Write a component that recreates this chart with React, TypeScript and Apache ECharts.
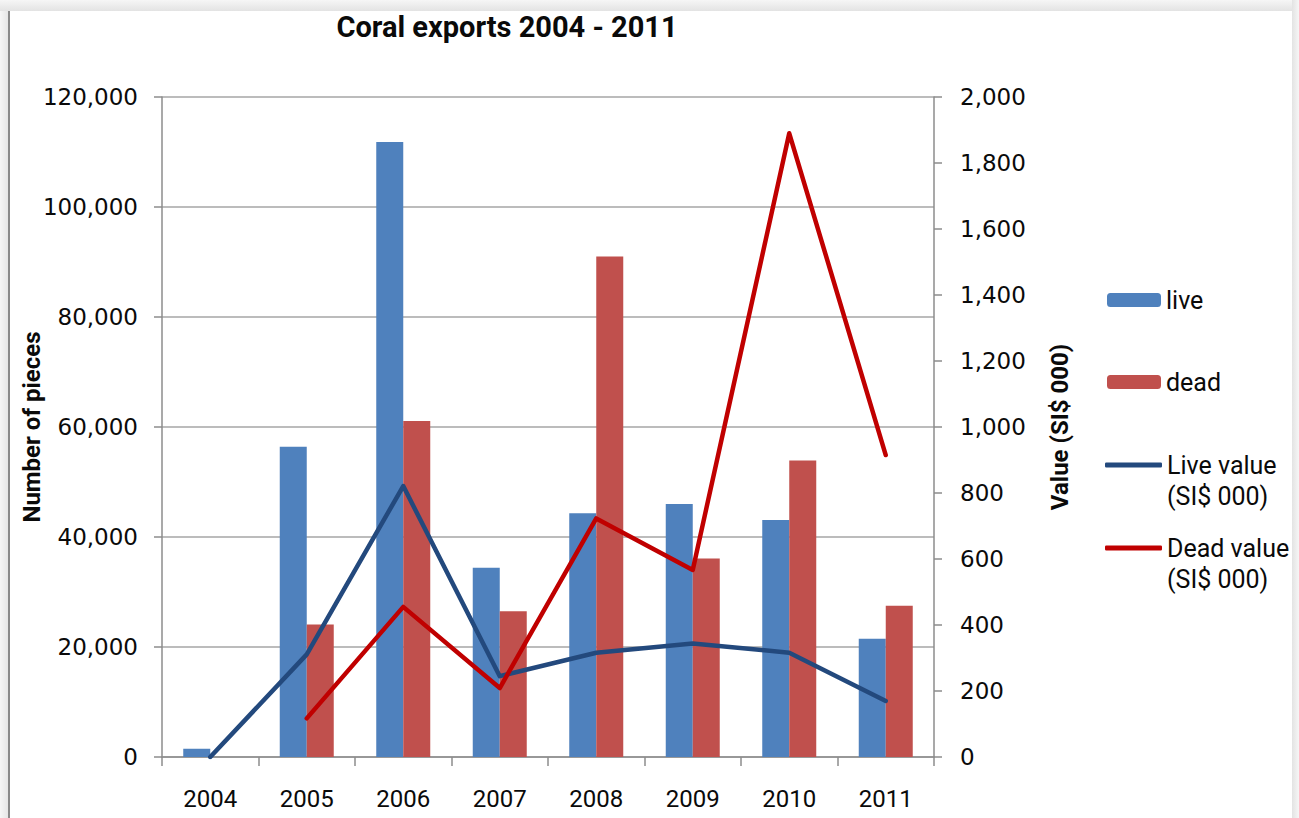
import React, { useEffect, useRef } from "react";
import * as echarts from "echarts";

const years = ["2004", "2005", "2006", "2007", "2008", "2009", "2010", "2011"];
const livePieces = [1500, 56400, 111800, 34400, 44300, 46000, 43100, 21500];
const deadPieces = [null, 24100, 61100, 26500, 91000, 36100, 53900, 27500];
const liveValue = [0, 311, 821, 245, 316, 344, 316, 170];
const deadValue = [null, 117, 455, 209, 723, 567, 1890, 915];

const leftTicks = { min: 0, max: 120000, interval: 20000 };
const rightTicks = { min: 0, max: 2000, interval: 200 };

const fmt = (v: number) => v.toLocaleString("en-US");

export default function App() {
  const ref = useRef<HTMLDivElement>(null);
  useEffect(() => {
    if (!ref.current) return;
    const chart = echarts.init(ref.current, null, { renderer: "svg" });
    const txt = "#0a0a0a";
    const axisGrey = "#8c8c8c";
    const legendFont = { fontFamily: "Roboto", fontSize: 25, color: txt, lineHeight: 31 };
    const barLegend = (name: string, cy: number) => ({
      data: [name], left: 1107, top: cy - 15.5, padding: 0, orient: "vertical",
      itemWidth: 54, itemHeight: 14, textStyle: legendFont, selectedMode: false,
    });
    const lineLegend = (name: string, label: string, cy: number) => ({
      data: [name], left: 1105, top: cy - 15.5, padding: 0, orient: "vertical",
      itemWidth: 57, itemHeight: 5, icon: "roundRect", selectedMode: false,
      formatter: () => label, textStyle: legendFont,
    });
    chart.setOption({
      animation: false,
      backgroundColor: "#ffffff",
      title: {
        text: "Coral exports 2004 - 2011",
        left: 502,
        top: 7,
        textAlign: "center",
        textStyle: { fontFamily: "Roboto", fontWeight: "bold", fontSize: 29, color: txt },
      },
      grid: { left: 162, right: 365, top: 97, bottom: 61 },
      legend: [
        barLegend("live", 300),
        barLegend("dead", 382),
        lineLegend("Live value (SI$ 000)", "Live value", 465),
        lineLegend("Dead value (SI$ 000)", "Dead value", 548),
      ],
      xAxis: {
        type: "category",
        data: years,
        boundaryGap: true,
        axisLine: { lineStyle: { color: axisGrey, width: 1.5 } },
        axisTick: { show: true, length: 9, lineStyle: { color: axisGrey, width: 1.5 } },
        axisLabel: { fontFamily: "Roboto", fontSize: 24, color: txt, margin: 30 },
      },
      yAxis: [
        {
          type: "value",
          ...leftTicks,
          name: "Number of pieces",
          nameLocation: "middle",
          nameGap: 118,
          nameRotate: 90,
          nameMoveOverlap: false,
          nameTextStyle: { fontFamily: "Roboto", fontWeight: "bold", fontSize: 24, color: txt },
          axisLine: { show: true, lineStyle: { color: axisGrey, width: 1.5 } },
          axisTick: { show: true, length: 8, lineStyle: { color: axisGrey, width: 1.5 } },
          splitLine: { show: true, lineStyle: { color: "#a6a6a6", width: 1.5 } },
          axisLabel: { fontFamily: "DejaVu Sans", fontSize: 23, color: txt, margin: 24, formatter: fmt },
        },
        {
          type: "value",
          ...rightTicks,
          name: "Value (SI$ 000)",
          nameLocation: "middle",
          nameGap: 114,
          nameRotate: 90,
          nameMoveOverlap: false,
          nameTextStyle: { fontFamily: "Roboto", fontWeight: "bold", fontSize: 24, color: txt },
          axisLine: { show: true, lineStyle: { color: axisGrey, width: 1.5 } },
          axisTick: { show: true, length: 8, lineStyle: { color: axisGrey, width: 1.5 } },
          splitLine: { show: false },
          axisLabel: { fontFamily: "DejaVu Sans", fontSize: 23, color: txt, margin: 26, formatter: fmt },
        },
      ],
      series: [
        {
          name: "live", type: "bar", data: livePieces, yAxisIndex: 0,
          barWidth: 27, barGap: "0%",
          itemStyle: { color: "#4f81bd" },
        },
        {
          name: "dead", type: "bar", data: deadPieces, yAxisIndex: 0,
          barWidth: 27, barGap: "0%",
          itemStyle: { color: "#c0504d" },
        },
        {
          name: "Live value (SI$ 000)", type: "line", data: liveValue, yAxisIndex: 1,
          symbol: "none", showSymbol: false,
          lineStyle: { color: "#23497d", width: 4.5, cap: "round", join: "round" },
          itemStyle: { color: "#23497d" },
        },
        {
          name: "Dead value (SI$ 000)", type: "line", data: deadValue, yAxisIndex: 1,
          symbol: "none", showSymbol: false,
          lineStyle: { color: "#c00000", width: 4.5, cap: "round", join: "round" },
          itemStyle: { color: "#c00000" },
        },
      ],
      graphic: [
        {
          type: "rect", shape: { x: 0, y: 0, width: 1299, height: 11 }, silent: true,
          style: { fill: new echarts.graphic.LinearGradient(0, 0, 0, 1, [
            { offset: 0, color: "#f6f6f6" }, { offset: 1, color: "#e3e3e3" }]) },
        },
        {
          type: "rect", shape: { x: 1292, y: 0, width: 7, height: 818 }, silent: true,
          style: { fill: new echarts.graphic.LinearGradient(0, 0, 1, 0, [
            { offset: 0, color: "#e3e3e3" }, { offset: 1, color: "#f6f6f6" }]) },
        },
        {
          type: "rect", shape: { x: 0, y: 11, width: 8, height: 807 }, silent: true,
          style: { fill: new echarts.graphic.LinearGradient(0, 0, 1, 0, [
            { offset: 0, color: "#f6f6f6" }, { offset: 1, color: "#e6e6e6" }]) },
        },
        {
          type: "rect", shape: { x: 8, y: 11, width: 2, height: 807 }, silent: true,
          style: { fill: "#8a8a8a" },
        },
        {
          type: "text", left: 1167, top: 496 - 15.5, silent: true,
          style: { text: "(SI$ 000)", fontFamily: "Roboto", fontSize: 25, fill: txt, lineHeight: 31 },
        },
        {
          type: "text", left: 1167, top: 579 - 15.5, silent: true,
          style: { text: "(SI$ 000)", fontFamily: "Roboto", fontSize: 25, fill: txt, lineHeight: 31 },
        },
      ],
    });
    return () => chart.dispose();
  }, []);
  return (
    <div
      ref={ref}
      style={{ position: "absolute", left: 0, top: 0, width: 1299, height: 818 }}
    />
  );
}
